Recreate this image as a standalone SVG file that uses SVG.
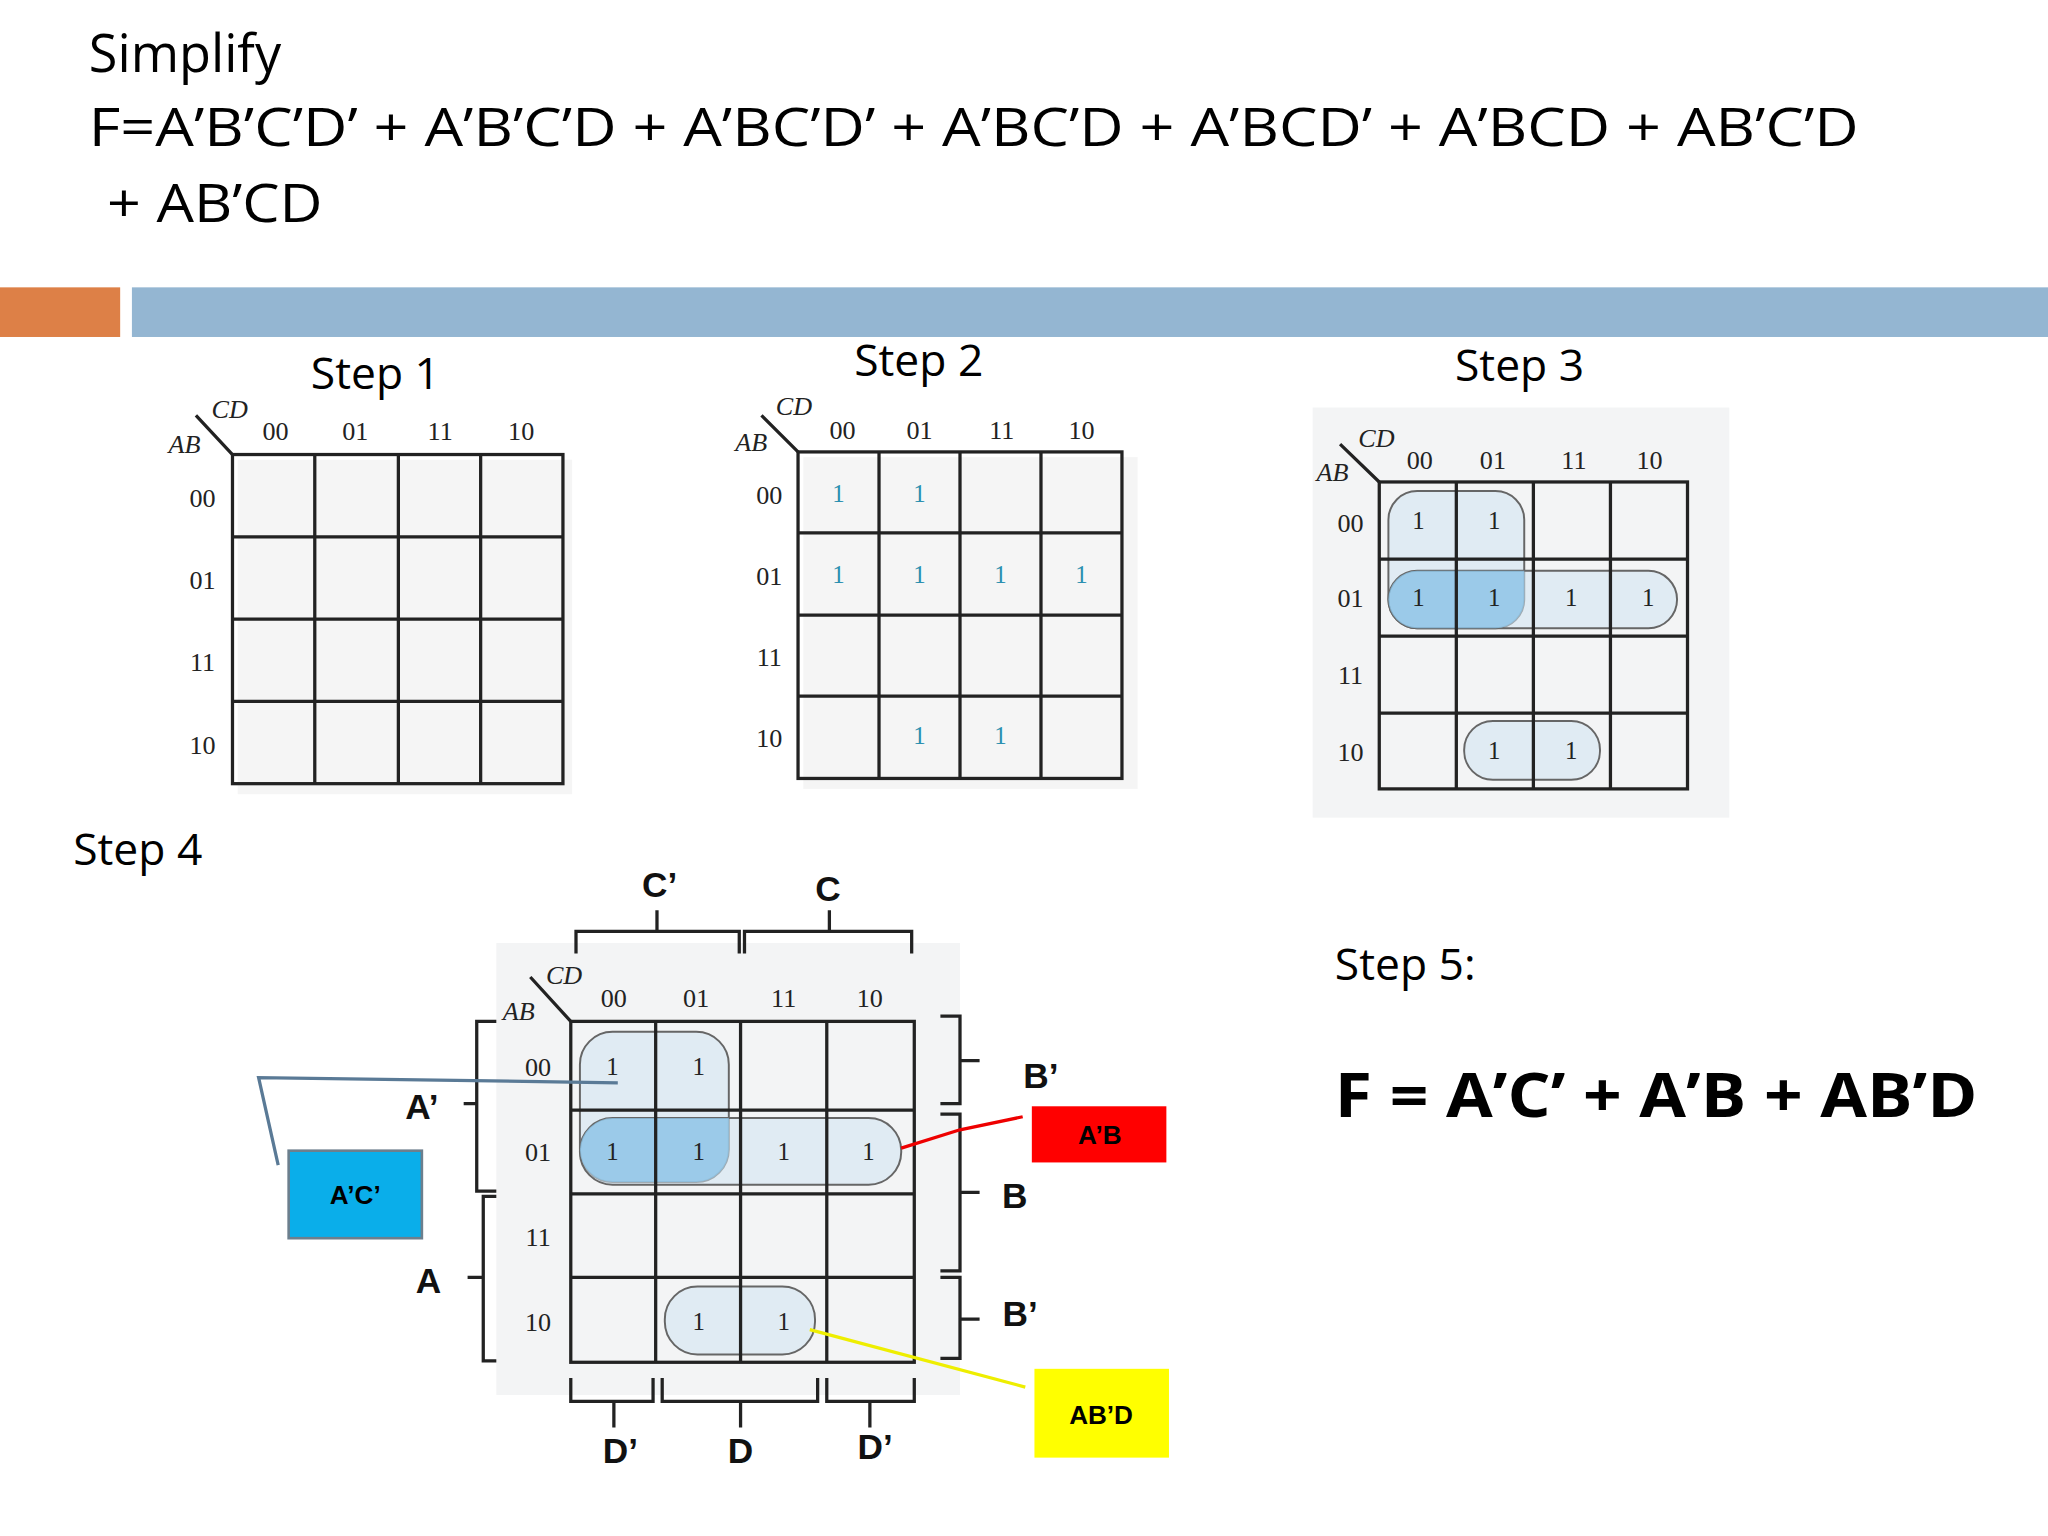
<svg xmlns="http://www.w3.org/2000/svg" width="2048" height="1536" viewBox="0 0 2048 1536">
<style>
.t{font-family:"Open Sans","Liberation Sans",sans-serif;fill:#000}
.s{font-family:"Liberation Serif",serif;fill:#222;font-size:20px;text-anchor:middle}
.i{font-family:"Liberation Serif",serif;font-style:italic;fill:#222;font-size:20px}
.g{fill:none;stroke:#222;stroke-width:2.5}
.one{font-family:"Liberation Serif",serif;font-size:19px;text-anchor:middle;fill:#2a8fb0}
.one4{font-family:"Liberation Serif",serif;font-size:19px;text-anchor:middle;fill:#222}
.br{fill:none;stroke:#222;stroke-width:2.5}
.bl{font-family:"Liberation Sans",sans-serif;font-weight:bold;font-size:27px;text-anchor:middle;fill:#111}
.lp{fill:#cfe3f0;fill-opacity:0.55;stroke:#666;stroke-width:1.5}
.ov{fill:#8cc3e6;fill-opacity:0.8}
.lab{font-family:"Liberation Sans",sans-serif;font-weight:bold;font-size:20px;text-anchor:middle;fill:#000}
</style>
<rect width="2048" height="1536" fill="#fff"/>
<g transform="scale(1.30612)">
<g id="title">
<text class="t" x="68" y="55" font-size="40">Simplify</text>
<text class="t" x="68" y="112" font-size="40" textLength="1355" lengthAdjust="spacingAndGlyphs">F=A’B’C’D’ + A’B’C’D + A’BC’D’ + A’BC’D + A’BCD’ + A’BCD + AB’C’D</text>
<text class="t" x="82" y="170" font-size="40" textLength="165" lengthAdjust="spacingAndGlyphs">+ AB’CD</text>
</g>
<g id="bars">
<rect x="0" y="220" width="92" height="38" fill="#DD8047"/>
<rect x="101" y="220" width="1467" height="38" fill="#94B6D2"/>
</g>
<g id="step1">
<text class="t" x="238" y="298" font-size="34">Step 1</text>
<rect x="182" y="352" width="256" height="256" fill="#eee" opacity="0.6"/>
<rect x="178" y="348" width="253" height="252" fill="#fff" class="g"/>
<path class="g" d="M241 348V600M305 348V600M368 348V600M178 411H431M178 474H431M178 537H431M150 318L178 348"/>
<text class="i" x="162" y="320">CD</text><text class="i" x="129" y="347">AB</text>
<text class="s" x="211" y="337">00</text><text class="s" x="272" y="337">01</text><text class="s" x="337" y="337">11</text><text class="s" x="399" y="337">10</text>
<text class="s" x="155" y="388">00</text><text class="s" x="155" y="451">01</text><text class="s" x="155" y="514">11</text><text class="s" x="155" y="577">10</text>
</g>
<g id="step2">
<text class="t" x="654" y="288" font-size="34">Step 2</text>
<rect x="615" y="350" width="256" height="254" fill="#eee" opacity="0.6"/>
<rect x="611" y="346" width="248" height="250" fill="#fff" class="g"/>
<path class="g" d="M673 346V596M735 346V596M797 346V596M611 408H859M611 471H859M611 533H859M583 318L611 346"/>
<text class="i" x="594" y="318">CD</text><text class="i" x="563" y="345">AB</text>
<text class="s" x="645" y="336">00</text><text class="s" x="704" y="336">01</text><text class="s" x="767" y="336">11</text><text class="s" x="828" y="336">10</text>
<text class="s" x="589" y="386">00</text><text class="s" x="589" y="448">01</text><text class="s" x="589" y="510">11</text><text class="s" x="589" y="572">10</text>
<text class="one" x="642" y="384">1</text><text class="one" x="704" y="384">1</text>
<text class="one" x="642" y="446">1</text><text class="one" x="704" y="446">1</text><text class="one" x="766" y="446">1</text><text class="one" x="828" y="446">1</text>
<text class="one" x="704" y="570">1</text><text class="one" x="766" y="570">1</text>
</g>
<g id="step3">
<text class="t" x="1114" y="292" font-size="34">Step 3</text>
<rect x="1005" y="312" width="319" height="314" fill="#f3f4f5"/>
<rect x="1056" y="369" width="236" height="235" fill="#fdfdfd" class="g"/>
<rect x="1063" y="376" width="104" height="105" rx="22" class="lp"/>
<rect x="1063" y="437" width="221" height="44" rx="22" class="lp"/>
<path class="ov" d="M1085 437H1167V459A22 22 0 0 1 1145 481H1085A22 22 0 0 1 1063 459A22 22 0 0 1 1085 437Z"/>
<rect x="1121" y="552" width="104" height="45" rx="22" class="lp"/>
<path class="g" d="M1115 369V604M1174 369V604M1233 369V604M1056 428H1292M1056 487H1292M1056 546H1292M1026 340L1056 369"/>
<text class="i" x="1040" y="342">CD</text><text class="i" x="1008" y="368">AB</text>
<text class="s" x="1087" y="359">00</text><text class="s" x="1143" y="359">01</text><text class="s" x="1205" y="359">11</text><text class="s" x="1263" y="359">10</text>
<text class="s" x="1034" y="407">00</text><text class="s" x="1034" y="465">01</text><text class="s" x="1034" y="524">11</text><text class="s" x="1034" y="583">10</text>
<text class="one4" x="1086" y="405">1</text><text class="one4" x="1144" y="405">1</text>
<text class="one4" x="1086" y="464">1</text><text class="one4" x="1144" y="464">1</text><text class="one4" x="1203" y="464">1</text><text class="one4" x="1262" y="464">1</text>
<text class="one4" x="1144" y="581">1</text><text class="one4" x="1203" y="581">1</text>
</g>
<g id="step4">
<text class="t" x="56" y="662" font-size="34">Step 4</text>
<rect x="380" y="722" width="355" height="346" fill="#f3f4f5"/>
<rect x="437" y="782" width="263" height="261" fill="#fdfdfd" class="g"/>
<rect x="444" y="790" width="114" height="115" rx="25" class="lp"/>
<rect x="444" y="856" width="246" height="51" rx="25" class="lp"/>
<path class="ov" d="M469 856H558V880A25 25 0 0 1 533 905H469A25 25 0 0 1 444 880A25 25 0 0 1 469 856Z"/>
<rect x="509" y="985" width="115" height="52" rx="25" class="lp"/>
<path class="g" d="M502 782V1043M567 782V1043M633 782V1043M437 850H700M437 914H700M437 978H700M406 748L437 782"/>
<text class="i" x="418" y="753">CD</text><text class="i" x="385" y="781">AB</text>
<text class="s" x="470" y="771">00</text><text class="s" x="533" y="771">01</text><text class="s" x="600" y="771">11</text><text class="s" x="666" y="771">10</text>
<text class="s" x="412" y="824">00</text><text class="s" x="412" y="889">01</text><text class="s" x="412" y="954">11</text><text class="s" x="412" y="1019">10</text>
<text class="one4" x="469" y="823">1</text><text class="one4" x="535" y="823">1</text>
<text class="one4" x="469" y="888">1</text><text class="one4" x="535" y="888">1</text><text class="one4" x="600" y="888">1</text><text class="one4" x="665" y="888">1</text>
<text class="one4" x="535" y="1018">1</text><text class="one4" x="600" y="1018">1</text>
</g>
<g id="brackets">
<path class="br" d="M441 730V713H566V730M503 713V697M570 730V713H698V730M635 713V697"/>
<path class="br" d="M437 1055V1073H500V1055M470 1073V1093M507 1055V1073H626V1055M567 1073V1093M633 1055V1073H700V1055M666 1073V1093"/>
<path class="br" d="M380 782H365V912H380M365 845H355M380 916H370V1042H380M370 978H358"/>
<path class="br" d="M720 778H735V845H720M735 812H750M720 853H735V973H720M735 913H750M720 978H735V1040H720M735 1010H750"/>
<text class="bl" x="505" y="687">C’</text><text class="bl" x="634" y="690">C</text>
<text class="bl" x="475" y="1120">D’</text><text class="bl" x="567" y="1120">D</text><text class="bl" x="670" y="1117">D’</text>
<text class="bl" x="323" y="857">A’</text><text class="bl" x="328" y="990">A</text>
<text class="bl" x="797" y="833">B’</text><text class="bl" x="777" y="925">B</text><text class="bl" x="781" y="1015">B’</text>
</g>
<g id="connectors">
<path d="M213 892L198 825L473 829" fill="none" stroke="#5a7a96" stroke-width="2.5"/>
<path d="M690 879L735 865L783 855" fill="none" stroke="#e00" stroke-width="2.5"/>
<path d="M620 1018L785 1062" fill="none" stroke="#ee0" stroke-width="2.5"/>
</g>
<g id="ac">
<rect x="221" y="881" width="102" height="67" fill="#0aaeea" stroke="#6d7f8d" stroke-width="2"/>
<text class="lab" x="272" y="922">A’C’</text>
</g>
<g id="ab">
<rect x="790" y="847" width="103" height="43" fill="#ff0000"/>
<text class="lab" x="842" y="876">A’B</text>
</g>
<g id="abd">
<rect x="792" y="1048" width="103" height="68" fill="#ffff00"/>
<text class="lab" x="843" y="1090">AB’D</text>
</g>
<g id="step5">
<text class="t" x="1022" y="750" font-size="34">Step 5:</text>
<text class="t" x="1022" y="855" font-size="46" font-weight="bold" textLength="492" lengthAdjust="spacingAndGlyphs">F = A’C’ + A’B + AB’D</text>
</g>
</g>
</svg>
